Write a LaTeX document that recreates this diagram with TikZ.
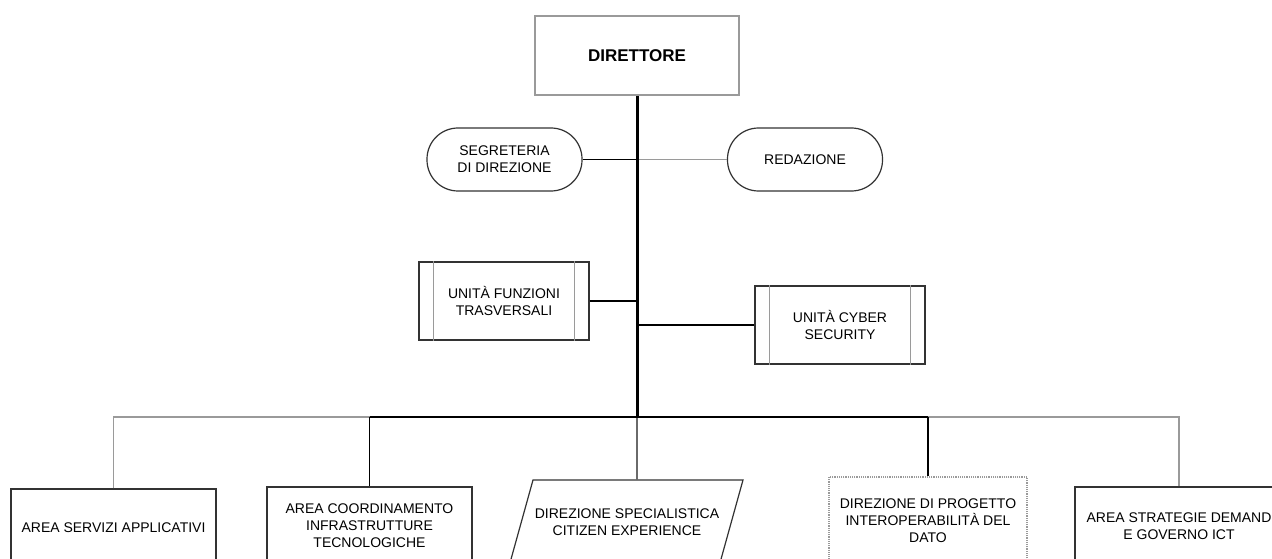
\documentclass[tikz,border=0pt]{standalone}
\usepackage{fontspec}
\setmainfont{Liberation Sans}
\definecolor{lgray}{HTML}{9A9A9A}
\definecolor{mgray}{HTML}{6A6A6A}
\definecolor{dgray}{HTML}{333333}
\tikzset{
  lbl/.style={font=\fontsize{14}{17}\selectfont, align=center, inner sep=0pt},
  dirbox/.style={draw=lgray, line width=2pt, font=\fontsize{17}{20}\selectfont\bfseries, align=center, minimum width=204pt, minimum height=79pt},
  stadium/.style={lbl, draw=dgray, line width=1.2pt, rounded corners=31pt, minimum width=155pt, minimum height=63pt},
  unitbox/.style={lbl, draw=dgray, line width=1.2pt, minimum width=170pt, minimum height=78pt},
  innerline/.style={draw=lgray, line width=1.2pt},
  areabox/.style={lbl, draw=dgray, line width=1.3pt},
  dotbox/.style={lbl, draw=lgray, line width=1.2pt, densely dotted},
  conn/.style={draw=black, line width=1.3pt},
  conngray/.style={draw=lgray, line width=1.3pt},
  conndark/.style={draw=mgray, line width=1.3pt},
  mainline/.style={draw=black, line width=3pt}
}
\begin{document}
\begin{tikzpicture}[x=1pt,y=-1pt]
\useasboundingbox (0,0) rectangle (1272,559);
\clip (0,0) rectangle (1272,559);
\fill[white] (0,0) rectangle (1272,559);

% top
\node[dirbox] (dir) at (637,55.5) {DIRETTORE};
\coordinate (hub) at (637,417);

\node[stadium] (seg) at (504.5,159.5) {SEGRETERIA\\DI DIREZIONE};
\node[stadium] (red) at (805,159.5) {REDAZIONE};

\node[unitbox] (uft) at (504,301) {UNITÀ FUNZIONI\\TRASVERSALI};
\node[unitbox] (ucs) at (840,325) {UNITÀ CYBER\\SECURITY};
\foreach \n in {uft,ucs}{
  \draw[innerline] ([xshift=15pt]\n.north west) -- ([xshift=15pt]\n.south west);
  \draw[innerline] ([xshift=-15pt]\n.north east) -- ([xshift=-15pt]\n.south east);
}

% bottom row
\node[areabox, minimum width=205pt, minimum height=78pt] (b1) at (113.5,528) {AREA SERVIZI APPLICATIVI};
\node[areabox, minimum width=205pt, minimum height=78pt] (b2) at (369.5,526) {AREA COORDINAMENTO\\INFRASTRUTTURE\\TECNOLOGICHE};
\node[lbl] (b3) at (627,522.5) {DIREZIONE SPECIALISTICA\\CITIZEN EXPERIENCE};
\draw[draw=dgray, line width=1.2pt] (533,480) -- (743,480) -- (718,570) -- (508,570) -- cycle;
\coordinate (b3top) at (637,480);
\node[dotbox, minimum width=198pt, minimum height=88pt] (b4) at (928,521) {DIREZIONE DI PROGETTO\\INTEROPERABILITÀ DEL\\DATO};
\node[areabox, minimum width=208pt, minimum height=78pt] (b5) at (1179,526) {AREA STRATEGIE DEMAND\\E GOVERNO ICT};

% connectors
\draw[conn] (seg.east) -- (seg.east -| hub);
\draw[conngray] (red.west) -- (red.west -| hub);
\draw[conn] (uft.east) -- (uft.east -| hub);
\draw[conn] (ucs.west) -- (ucs.west -| hub);

\draw[conngray] (b1.north) -- (b1.north |- hub) -- (b2.north |- hub);
\draw[conn] (b2.north |- hub) -- (b4.north |- hub);
\draw[conngray] (b4.north |- hub) -- (b5.north |- hub) -- (b5.north);
\draw[conn] (b2.north |- hub) -- (b2.north);
\draw[conndark] (hub) -- (b3top);
\draw[conn] (b4.north |- hub) -- (b4.north);

\draw[mainline] (dir.south) -- ([yshift=-1pt]hub);
\end{tikzpicture}
\end{document}
